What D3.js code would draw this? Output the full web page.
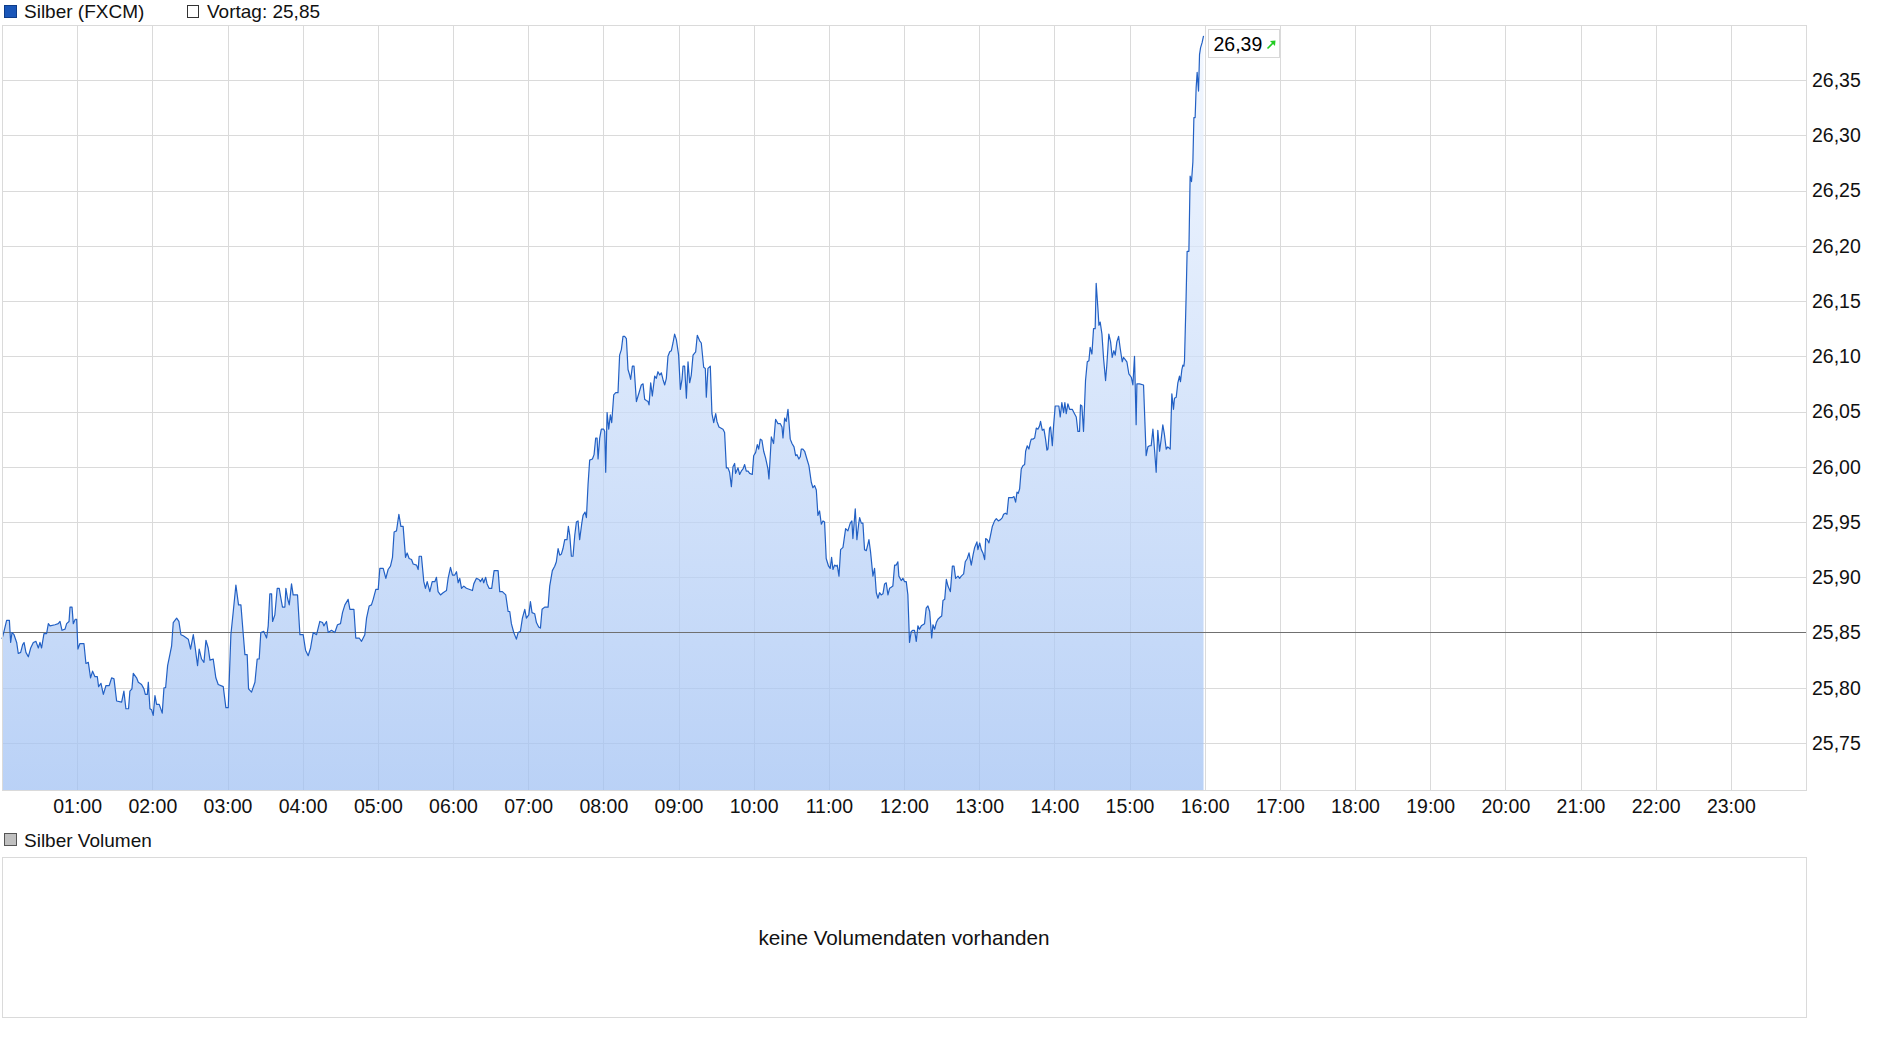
<!DOCTYPE html>
<html><head><meta charset="utf-8">
<script src="https://cdn.jsdelivr.net/npm/d3@7"></script>
<style>
html,body{margin:0;padding:0;background:#fff;}
svg{display:block;font-family:"Liberation Sans",Arial,Helvetica,sans-serif;}
</style></head><body>
<svg id="c" width="1880" height="1037"></svg>
<script>
// minutes since 00:00
const times = [
0,1.6,3.7,5.9,6.9,8,9.6,11.7,13,14.9,
16.5,17.6,19.1,21,22.9,25,27.1,29,30.3,31.6,
33.5,35.6,37,38.3,42.3,44.9,46.3,47.9,50.3,51.6,
53.5,54.3,55.9,56.9,58.5,59.6,60.6,62.2,65.4,67,
68.9,70.7,72.3,74.2,76.1,77.1,79,80.9,83,85.6,
87.5,89.4,91.5,95.5,97.3,98.9,101,102.1,103.7,104.8,
107.4,108.8,111.4,113.3,114.4,116,116.8,118.1,119.4,120.7,
122.1,123.4,125.5,127.9,129.3,130.6,132.2,134,135.4,136.7,
139.4,141.2,142.8,144.7,148.7,150.5,152.7,154,156.1,157.4,
159.3,161.2,162.8,164.6,166,168.6,170.7,172.6,176.6,178.7,
180.6,182.7,184.6,186.7,188.8,190.7,192.6,193.9,195.7,196.8,
199.2,201.9,203.7,205.3,206.6,209,211.2,212.5,213.8,215.2,
216,217.8,219.7,221.3,222.3,223.9,225.8,226.6,227.9,229.3,
231.1,232.4,235.9,237.8,240.4,242.3,244.4,246.3,248.4,251.1,
253.7,255.9,256.9,259,260.4,263,265.7,267.8,270.2,271.8,
273.7,276.3,277.7,280.9,282.4,285.1,287,289.6,291,293.1,
294.9,296.3,298.4,300.3,301.6,304.3,306.4,308.2,310.1,311.7,
313,314.9,316.8,318.4,320.2,322.1,323.4,325,326.9,328.2,
330.9,332.2,333,334.8,336.7,338,339.4,341.5,343.4,345.5,
346.8,348.1,350,352.1,354.8,356.1,358,359.6,361.4,362.8,
364.1,365.4,366.8,368.6,370.7,375.5,376.6,378.7,380.8,381.9,
383.5,384.5,386.1,387.2,388.8,390.9,392.8,396,397.3,399.4,
402.1,404,405.3,406.6,408.5,410.6,412,413.8,415.4,417.3,
418.6,420.5,421.8,423.1,425.2,426.6,428.4,429.8,431.1,433.2,
435.9,437.2,439.3,441.2,442.5,443.9,445.2,446.5,447.8,449.2,
451,452.1,453.2,454.5,455.8,457.2,458.5,459.8,461.1,462.7,
463.8,465.4,466.5,467.8,469.1,471.3,472.6,473.9,475,475.8,
477.1,478.4,480.3,481.1,481.9,483,484.3,485.6,486.7,488.3,
489.9,491.7,493,494.4,495.7,497,498.4,499.7,501,501.8,
503.2,504.5,506.4,507.7,508.5,510.3,511.7,513,514.3,515.7,
516.5,517.8,519.1,521,522.3,523.6,525,526.3,527.6,529,
530.3,531.6,533,534.3,535.6,536.9,538.3,540.1,541.5,542.8,
543.6,544.9,546.3,547.6,548.9,550.2,551.6,553.7,555,556.9,
558.2,560.1,561.4,562.2,563.5,565.4,566.7,568.1,569.7,570.7,
572.3,575.5,576.8,578.2,579.5,580.8,582.2,583.5,584.8,585.6,
587.5,588.8,590.1,591.5,592.8,594.1,595.5,596.8,598.9,600,
601.6,602.9,604,605.3,606.6,608,609.5,611.4,612.2,614.1,
615.9,617.5,619.4,621.3,622.6,623.4,624.7,626,627.4,629.2,
630.6,632.2,633.5,634.5,636.1,637.2,638,639.3,640.7,642.5,
644.1,646,647.3,648.6,650,651.3,652.6,654,655.3,656.6,
657.9,659.8,661.1,662.2,663.3,664.6,665.9,666.7,668.1,669.4,
671.3,673.4,675.2,677.1,678.4,679.2,681.1,682.4,683.8,684.6,
685.9,687.2,688.5,689.9,691.2,692,693.3,695.2,696.5,697.9,
699.2,700.5,701.8,703.2,704.5,705.8,707.2,708.5,709.8,711.1,
712.5,713.8,715.1,715.9,717.8,719.1,720.5,721.8,723.1,724.4,
725.8,727.1,728.4,729.8,731.1,732.4,733.8,735.1,736.4,737.7,
739.1,740.5,742.1,743.1,744.5,745.8,747.1,749,750.1,751.1,
752.5,753.8,755.1,757,758.6,759.9,761.2,763.1,764.4,765.7,
767.6,768.9,770.5,771.9,773.7,775.1,776.4,778.2,779,780.4,
781.7,783,784.4,785.2,786.5,787.8,788.9,790.5,792.3,793.7,
795.3,796.9,798.5,799.5,800.9,802.2,803.5,804.8,806.4,807.8,
809.1,810.2,811.2,812.3,813.6,814.9,816.3,817.1,818.4,819.7,
820.8,821.6,822.9,824.3,825.6,826.9,828.2,829,830.4,831.7,
833,834.1,834.9,836.2,837,838.4,839.4,840.7,843.6,844.7,
846,847.4,848.4,849.5,850.8,852.2,854.3,856.1,857.5,858.8,
860.1,860.9,862,863.3,864.9,866.3,867.6,868.6,870,871.3,
872.6,873.4,874.8,875.6,876.6,878,879.3,880.9,881.9,883.5,
884.9,886.2,887.5,888.6,889.9,891.3,892.6,894.2,895.2,896.6,
897.9,899.5,901.4,902.7,904,905.3,905.9,908,911.2,913.3,
914.7,916,917.3,918.7,920,921.3,922.6,924,925.3,926.6,
927.9,929.3,930.6,932.5,933.8,935.1,935.9,937.3,938.6,939.9,
940.7,941.8,942.6,943.4,943.9,945.2,946,947.4,948.4,949.5,
950.6,951.4,952.4,953.2,954,955.1,955.9,956.7,958,959.1
];
const prices = [
25.844,25.851,25.861,25.861,25.841,25.850,25.848,25.841,25.831,25.832,
25.839,25.841,25.832,25.828,25.836,25.841,25.842,25.836,25.841,25.836,
25.849,25.849,25.858,25.856,25.857,25.858,25.860,25.852,25.853,25.858,
25.860,25.873,25.873,25.858,25.862,25.862,25.835,25.840,25.840,25.822,
25.823,25.809,25.815,25.810,25.810,25.801,25.804,25.794,25.802,25.802,
25.809,25.808,25.788,25.787,25.797,25.781,25.781,25.797,25.799,25.813,
25.809,25.805,25.803,25.799,25.794,25.794,25.805,25.781,25.780,25.775,
25.793,25.785,25.785,25.777,25.800,25.800,25.820,25.830,25.838,25.859,
25.863,25.860,25.848,25.847,25.844,25.835,25.848,25.838,25.820,25.835,
25.826,25.823,25.843,25.836,25.825,25.826,25.809,25.803,25.801,25.782,
25.782,25.848,25.869,25.893,25.875,25.875,25.848,25.830,25.830,25.799,
25.796,25.805,25.826,25.826,25.850,25.851,25.845,25.856,25.885,25.885,
25.860,25.866,25.890,25.890,25.883,25.873,25.873,25.890,25.881,25.875,
25.894,25.884,25.884,25.848,25.848,25.834,25.829,25.836,25.850,25.848,
25.860,25.859,25.856,25.860,25.850,25.852,25.850,25.857,25.858,25.868,
25.875,25.880,25.871,25.871,25.845,25.845,25.842,25.848,25.863,25.874,
25.875,25.880,25.889,25.889,25.908,25.908,25.899,25.907,25.910,25.918,
25.941,25.942,25.957,25.946,25.946,25.918,25.922,25.917,25.916,25.912,
25.911,25.907,25.919,25.919,25.896,25.890,25.896,25.887,25.896,25.896,
25.900,25.887,25.884,25.886,25.888,25.899,25.909,25.902,25.902,25.905,
25.895,25.899,25.890,25.892,25.890,25.888,25.894,25.899,25.898,25.896,
25.899,25.895,25.900,25.894,25.890,25.890,25.906,25.906,25.887,25.887,
25.884,25.869,25.869,25.858,25.850,25.844,25.850,25.851,25.863,25.871,
25.863,25.866,25.878,25.868,25.867,25.859,25.855,25.854,25.871,25.873,
25.873,25.892,25.906,25.910,25.914,25.926,25.920,25.921,25.926,25.934,
25.934,25.946,25.938,25.919,25.919,25.938,25.950,25.951,25.934,25.948,
25.956,25.959,25.954,25.984,26.006,26.007,26.011,26.026,26.026,26.007,
26.026,26.034,26.034,26.032,25.995,26.049,26.034,26.047,26.040,26.065,
26.067,26.067,26.101,26.106,26.118,26.118,26.116,26.088,26.083,26.079,
26.091,26.091,26.059,26.064,26.067,26.074,26.075,26.061,26.060,26.059,
26.056,26.076,26.064,26.082,26.080,26.086,26.083,26.085,26.079,26.074,
26.080,26.100,26.104,26.105,26.112,26.120,26.115,26.101,26.070,26.079,
26.091,26.091,26.062,26.095,26.076,26.083,26.101,26.104,26.119,26.114,
26.112,26.090,26.089,26.063,26.089,26.091,26.048,26.040,26.048,26.041,
26.036,26.034,26.031,25.999,25.999,25.995,25.982,26.000,26.003,25.994,
25.999,25.993,25.996,25.998,26.002,25.996,25.996,25.994,25.993,26.010,
26.013,26.020,26.016,26.025,26.024,26.014,26.008,25.998,25.989,26.027,
26.021,26.043,26.039,26.039,26.036,26.026,26.044,26.041,26.052,26.025,
26.021,26.018,26.010,26.011,26.007,26.009,26.016,26.016,26.014,26.007,
26.001,25.986,25.981,25.983,25.979,25.956,25.960,25.948,25.951,25.950,
25.917,25.910,25.908,25.918,25.907,25.911,25.910,25.911,25.901,25.925,
25.927,25.944,25.942,25.949,25.951,25.935,25.962,25.934,25.948,25.954,
25.949,25.949,25.925,25.924,25.930,25.934,25.923,25.901,25.908,25.886,
25.881,25.886,25.884,25.885,25.894,25.895,25.884,25.890,25.891,25.892,
25.911,25.911,25.914,25.901,25.897,25.899,25.896,25.896,25.884,25.841,
25.851,25.852,25.852,25.842,25.856,25.853,25.856,25.857,25.858,25.872,
25.874,25.869,25.845,25.857,25.853,25.859,25.862,25.864,25.865,25.879,
25.880,25.898,25.892,25.887,25.910,25.910,25.899,25.901,25.899,25.901,
25.903,25.914,25.917,25.922,25.911,25.920,25.927,25.932,25.925,25.931,
25.925,25.922,25.916,25.935,25.934,25.931,25.937,25.946,25.951,25.953,
25.951,25.952,25.954,25.957,25.958,25.957,25.972,25.972,25.972,25.973,
25.968,25.977,25.976,25.980,25.998,26.001,26.002,26.014,26.019,26.016,
26.022,26.025,26.025,26.026,26.035,26.034,26.037,26.041,26.033,26.034,
26.025,26.015,26.016,26.035,26.036,26.019,26.037,26.055,26.055,26.045,
26.058,26.049,26.058,26.048,26.057,26.052,26.052,26.048,26.045,26.032,
26.032,26.056,26.055,26.032,26.078,26.095,26.096,26.108,26.102,26.125,
26.125,26.166,26.143,26.128,26.131,26.120,26.098,26.078,26.092,26.120,
26.113,26.099,26.105,26.101,26.113,26.118,26.107,26.095,26.099,26.097,
26.095,26.084,26.081,26.074,26.100,26.038,26.075,26.075,26.074,26.010,
26.018,26.019,26.019,26.034,26.015,25.995,26.033,26.014,26.025,26.038,
26.029,26.016,26.018,26.016,26.066,26.052,26.062,26.063,26.076,26.082,
26.077,26.088,26.092,26.091,26.096,26.154,26.195,26.195,26.263,26.258,
26.276,26.316,26.316,26.343,26.357,26.340,26.373,26.379,26.384,26.390
];
const prevClose = 25.85;
const lastPrice = 26.39;
const hourTicks = [60,120,180,240,300,360,420,480,540,600,660,720,780,840,900,960,1020,1080,1140,1200,1260,1320,1380];
const hourLabels = ["01:00","02:00","03:00","04:00","05:00","06:00","07:00","08:00","09:00","10:00","11:00","12:00","13:00","14:00","15:00","16:00","17:00","18:00","19:00","20:00","21:00","22:00","23:00"];
const priceTicks = [25.75,25.80,25.85,25.90,25.95,26.00,26.05,26.10,26.15,26.20,26.25,26.30,26.35];
const priceLabels = ["25,75","25,80","25,85","25,90","25,95","26,00","26,05","26,10","26,15","26,20","26,25","26,30","26,35"];
const seriesName = "Silber (FXCM)";
const prevLabel = "Vortag: 25,85";
const lastLabel = "26,39";
const volumeName = "Silber Volumen";
const volumeMessage = "keine Volumendaten vorhanden";

const n = Math.min(times.length, prices.length);
const data = d3.range(n).map(i => ({t: times[i], v: prices[i]}));

const svg = d3.select("#c");
const P = {left: 2, right: 1806, top: 25, bottom: 790};
const x = d3.scaleLinear().domain([0, 1440]).range([P.left, P.right]);
const y = d3.scaleLinear().domain([25.75, 26.35]).range([743, 80]);
const FS = 19.5;
const LFS = 19;
const gridCol = "#dadada";

// gradient
const defs = svg.append("defs");
const grad = defs.append("linearGradient").attr("id","fillGrad")
  .attr("gradientUnits","userSpaceOnUse").attr("x1",0).attr("x2",0).attr("y1",P.top).attr("y2",P.bottom);
grad.append("stop").attr("offset","0%").attr("stop-color","#f0f6ff");
grad.append("stop").attr("offset","100%").attr("stop-color","#9fc0f3");

// grid
const grid = svg.append("g");
grid.selectAll("line.v").data(hourTicks).join("line")
  .attr("x1", d => Math.round(x(d)) + 0.5).attr("x2", d => Math.round(x(d)) + 0.5)
  .attr("y1", P.top).attr("y2", P.bottom).attr("stroke", gridCol);
grid.selectAll("line.h").data(priceTicks.filter(d => d !== prevClose)).join("line")
  .attr("x1", P.left).attr("x2", P.right)
  .attr("y1", d => Math.round(y(d)) + 0.5).attr("y2", d => Math.round(y(d)) + 0.5).attr("stroke", gridCol);

// area
const area = d3.area().x(d => x(d.t)).y0(P.bottom).y1(d => y(d.v));
svg.append("path").datum(data).attr("d", area).attr("fill", "url(#fillGrad)").attr("fill-opacity", 0.72);

// previous close line
svg.append("line").attr("x1", P.left).attr("x2", P.right)
  .attr("y1", Math.round(y(prevClose)) + 0.5).attr("y2", Math.round(y(prevClose)) + 0.5)
  .attr("stroke", "#707070").attr("stroke-width", 1);

// price line
const line = d3.line().x(d => x(d.t)).y(d => y(d.v));
svg.append("path").datum(data).attr("d", line).attr("fill", "none")
  .attr("stroke", "#2260c4").attr("stroke-width", 1.2).attr("stroke-linejoin", "round");

// border
svg.append("rect").attr("x", P.left + 0.5).attr("y", P.top + 0.5)
  .attr("width", P.right - P.left).attr("height", P.bottom - P.top)
  .attr("fill", "none").attr("stroke", gridCol);

// axes
const xAxis = d3.axisBottom(x).tickValues(hourTicks).tickFormat((d, i) => hourLabels[i]).tickSize(0).tickPadding(9);
const gx = svg.append("g").attr("transform", `translate(0,${P.bottom})`).call(xAxis);
gx.select(".domain").remove();
gx.selectAll("text").attr("font-size", FS).attr("fill", "#111");
gx.attr("font-family", null).attr("font-size", null);

const yAxis = d3.axisRight(y).tickValues(priceTicks).tickFormat((d, i) => priceLabels[i]).tickSize(0).tickPadding(6);
const gy = svg.append("g").attr("transform", `translate(${P.right},0)`).call(yAxis);
gy.select(".domain").remove();
gy.selectAll("text").attr("font-size", FS).attr("fill", "#111");
gy.attr("font-family", null).attr("font-size", null);

// last price box
const last = data[n - 1];
const bx = Math.round(x(last.t)) + 4.5, by = Math.round(y(last.v)) - 6.5;
svg.append("rect").attr("x", bx).attr("y", by).attr("width", 71).attr("height", 28)
  .attr("fill", "#fff").attr("stroke", "#d8d8d8");
svg.append("text").attr("x", bx + 5).attr("y", by + 21).attr("font-size", FS).attr("fill", "#000").text(lastLabel);
const ax = bx + 59, ay = by + 19;
svg.append("path").attr("d", `M${ax},${ay} L${ax + 6},${ay - 6}`).attr("stroke", "#22cc22").attr("stroke-width", 1.6).attr("fill", "none");
svg.append("path").attr("d", `M${ax + 8},${ay - 8} L${ax + 2.5},${ay - 7.5} L${ax + 7.5},${ay - 2.5} Z`).attr("fill", "#22cc22");

// top legend
svg.append("rect").attr("x", 4.5).attr("y", 5.5).attr("width", 12).attr("height", 12)
  .attr("fill", "#1a56b8").attr("stroke", "#0e3c88");
svg.append("text").attr("x", 24).attr("y", 18).attr("font-size", LFS).attr("fill", "#111").text(seriesName);
svg.append("rect").attr("x", 187.5).attr("y", 5.5).attr("width", 11).attr("height", 12)
  .attr("fill", "#fff").attr("stroke", "#333");
svg.append("text").attr("x", 207).attr("y", 18).attr("font-size", LFS).attr("fill", "#111").text(prevLabel);

// volume panel
svg.append("rect").attr("x", 4.5).attr("y", 833.5).attr("width", 12).attr("height", 12)
  .attr("fill", "#c0c0c0").attr("stroke", "#555");
svg.append("text").attr("x", 24).attr("y", 847).attr("font-size", LFS).attr("fill", "#111").text(volumeName);
svg.append("rect").attr("x", P.left + 0.5).attr("y", 857.5).attr("width", P.right - P.left).attr("height", 160)
  .attr("fill", "none").attr("stroke", gridCol);
svg.append("text").attr("x", (P.left + P.right) / 2).attr("y", 945).attr("text-anchor", "middle")
  .attr("font-size", 20.7).attr("fill", "#111").text(volumeMessage);
</script>
</body></html>
